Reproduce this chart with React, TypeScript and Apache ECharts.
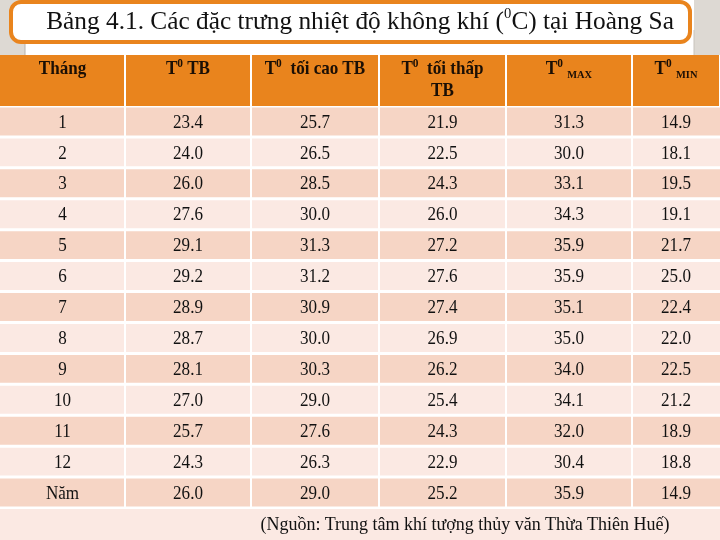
import React, { useEffect, useRef } from "react";
import * as echarts from "echarts";

// ---- data ----
const TITLE_MAIN = "Bảng 4.1. Các đặc trưng nhiệt độ không khí (";
const TITLE_END = "C) tại Hoàng Sa";
const SOURCE = "(Nguồn: Trung tâm khí tượng thủy văn Thừa Thiên Huế)";
const months = ["1", "2", "3", "4", "5", "6", "7", "8", "9", "10", "11", "12", "Năm"];
const tTB = [23.4, 24.0, 26.0, 27.6, 29.1, 29.2, 28.9, 28.7, 28.1, 27.0, 25.7, 24.3, 26.0];
const tToiCao = [25.7, 26.5, 28.5, 30.0, 31.3, 31.2, 30.9, 30.0, 30.3, 29.0, 27.6, 26.3, 29.0];
const tToiThap = [21.9, 22.5, 24.3, 26.0, 27.2, 27.6, 27.4, 26.9, 26.2, 25.4, 24.3, 22.9, 25.2];
const tMax = [31.3, 30.0, 33.1, 34.3, 35.9, 35.9, 35.1, 35.0, 34.0, 34.1, 32.0, 30.4, 35.9];
const tMin = [14.9, 18.1, 19.5, 19.1, 21.7, 25.0, 22.4, 22.0, 22.5, 21.2, 18.9, 18.8, 14.9];
// header: [before-sup, after-sup (bold), subscript]
const headers: string[][] = [
  ["Tháng", "", ""],
  ["T", " TB", ""],
  ["T", "  tối cao TB", ""],
  ["T", "  tối thấp\nTB", ""],
  ["T", " ", "MAX"],
  ["T", " ", "MIN"],
];

// ---- layout ----
const COL_EDGES = [0, 125, 251, 379, 506, 632, 720];
const FONT = "'Liberation Serif', 'DejaVu Serif', serif";
const ORANGE = "#E9841D";
const ROW_A = "#F6D5C5";
const ROW_B = "#FBE9E3";
const INK = "#111111";
const HEAD_INK = "#1b0f05";

export default function App() {
  const ref = useRef<HTMLDivElement>(null);
  useEffect(() => {
    if (!ref.current) return;
    const chart = echarts.init(ref.current, null, { renderer: "svg" });

    const columns = [tTB, tToiCao, tToiThap, tMax, tMin];
    const cellData: any[] = [];
    months.forEach((m, r) => {
      cellData.push({ value: [0, r], label: m });
      columns.forEach((col, ci) => {
        cellData.push({ value: [ci + 1, r], label: col[r].toFixed(1) });
      });
    });

    const headerGraphics: any[] = [];
    headers.forEach((h, i) => {
      const x0 = COL_EDGES[i];
      const x1 = COL_EDGES[i + 1];
      headerGraphics.push({
        type: "rect",
        shape: { x: x0 + (i === 0 ? 0 : 1), y: 55, width: x1 - x0 - (i === 0 ? 1 : 2), height: 51 },
        style: { fill: ORANGE },
      });
      let txt: string;
      if (i === 0) {
        txt = `{b|${h[0]}}`;
      } else {
        const after = h[1].split("\n");
        txt = `{b|${h[0]}}{sup|0}{b|${after[0]}}` + (h[2] ? `{sub|${h[2]}}` : "");
        if (after.length > 1) txt += `\n{b|${after[1]}}`;
      }
      headerGraphics.push({
        type: "text",
        x: (x0 + x1) / 2,
        y: 57,
        scaleX: 0.95,
        style: {
          text: txt,
          align: "center",
          verticalAlign: "top",
          rich: {
            b: { fontFamily: FONT, fontSize: 18, fontWeight: "bold", fill: HEAD_INK, lineHeight: 22, verticalAlign: "middle" },
            sup: { fontFamily: FONT, fontSize: 12, fontWeight: "bold", fill: HEAD_INK, lineHeight: 22, verticalAlign: "top", padding: [0, 0, 8, 0] },
            sub: { fontFamily: FONT, fontSize: 11, fontWeight: "bold", fill: HEAD_INK, lineHeight: 22, verticalAlign: "bottom", padding: [6, 0, 0, 0] },
          },
        },
      });
    });

    chart.setOption({
      animation: false,
      graphic: [
        { type: "rect", shape: { x: 0, y: 0, width: 720, height: 540 }, style: { fill: "#ffffff" }, z: -10 },
        { type: "rect", shape: { x: 0, y: 0, width: 25, height: 55 }, style: { fill: "#DDD9D3" }, z: -9 },
        { type: "rect", shape: { x: 694, y: 0, width: 26, height: 55 }, style: { fill: "#DDD9D3" }, z: -9 },
        { type: "line", shape: { x1: 25, y1: 42, x2: 25, y2: 55 }, style: { stroke: "#B8B2AA", lineWidth: 1 }, z: -8 },
        { type: "line", shape: { x1: 694, y1: 30, x2: 694, y2: 55 }, style: { stroke: "#C8C3BC", lineWidth: 1 }, z: -8 },
        {
          type: "rect",
          shape: { x: 11, y: 2, width: 679, height: 40, r: 10 },
          style: { fill: "#ffffff", stroke: ORANGE, lineWidth: 4 },
          z: -7,
        },
        {
          type: "text",
          x: 360,
          y: 20,
          scaleX: 0.975,
          style: {
            text: `{t|${TITLE_MAIN}}{s|0}{t|${TITLE_END}}`,
            align: "center",
            verticalAlign: "middle",
            rich: {
              t: { fontFamily: FONT, fontSize: 26, fill: INK, lineHeight: 30, verticalAlign: "middle" },
              s: { fontFamily: FONT, fontSize: 15, fill: INK, lineHeight: 30, verticalAlign: "top", padding: [0, 0, 10, 0] },
            },
          },
        },
        ...headerGraphics,
        { type: "rect", shape: { x: 0, y: 509, width: 720, height: 31 }, style: { fill: ROW_B } },
        {
          type: "text",
          x: 465,
          y: 524,
          style: { text: SOURCE, align: "center", verticalAlign: "middle", fontFamily: FONT, fontSize: 18, fill: INK },
        },
      ],
      grid: { left: 0, right: 0, top: 106, height: 402 },
      xAxis: { type: "value", min: 0, max: 720, show: false },
      yAxis: { type: "category", data: months, inverse: true, show: false },
      series: [
        {
          type: "custom",
          data: cellData,
          renderItem: (params: any, api: any) => {
            const c = api.value(0);
            const r = api.value(1);
            const item = cellData[params.dataIndex];
            const left = api.coord([COL_EDGES[c], r]);
            const right = api.coord([COL_EDGES[c + 1], r]);
            const h = api.size([0, 1])[1];
            const cy = left[1];
            const gx0 = c === 0 ? 0 : 1;
            const gx1 = c === COL_EDGES.length - 2 ? 0 : 1;
            return {
              type: "group",
              children: [
                {
                  type: "rect",
                  shape: {
                    x: left[0] + gx0,
                    y: cy - h / 2 + 1.5,
                    width: right[0] - left[0] - gx0 - gx1,
                    height: h - 3,
                  },
                  style: { fill: r % 2 === 0 ? ROW_A : ROW_B },
                },
                {
                  type: "text",
                  x: (left[0] + right[0]) / 2,
                  y: cy,
                  scaleX: 0.95,
                  style: {
                    text: item.label,
                    x: 0,
                    y: 0,
                    align: "center",
                    verticalAlign: "middle",
                    fontFamily: FONT,
                    fontSize: 18,
                    fill: INK,
                  },
                },
              ],
            };
          },
        },
      ],
    });
    return () => chart.dispose();
  }, []);
  return <div ref={ref} style={{ position: "fixed", left: 0, top: 0, width: 720, height: 540 }} />;
}
